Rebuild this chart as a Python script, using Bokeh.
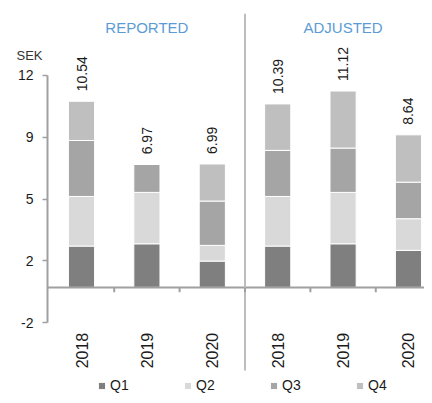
from bokeh.plotting import figure
from bokeh.models import (ColumnDataSource, Range1d, LinearAxis, FixedTicker)
from bokeh.core.properties import value
from bokeh.embed import file_html
from bokeh.resources import INLINE
import math

# ---- data ----
groups = ["REPORTED", "ADJUSTED"]
years = ["2018", "2019", "2020"]
quarters = ["Q1", "Q2", "Q3", "Q4"]
q1 = [2.34, 2.47, 1.49, 2.34, 2.47, 2.10]
q2 = [2.81, 2.91, 0.89, 2.81, 2.91, 1.79]
q3 = [3.17, 1.59, 2.51, 2.61, 2.51, 2.07]
q4 = [2.22, 0.00, 2.10, 2.63, 3.23, 2.68]
y_ticks = [-2, 1.5, 5, 8.5, 12]
y_tick_labels = ["-2", "2", "5", "9", "12"]
unit = "SEK"
colors = ["#7f7f7f", "#d9d9d9", "#a5a5a5", "#bfbfbf"]

FONT = "Liberation Sans"
TXT = "#1a1a1a"

n = len(years) * len(groups)
xs = list(range(n))
totals = [round(a + b + c + d, 2) for a, b, c, d in zip(q1, q2, q3, q4)]
cat_labels = years * len(groups)

source = ColumnDataSource(dict(x=xs, Q1=q1, Q2=q2, Q3=q3, Q4=q4,
                               total=totals, lab=["%.2f" % t for t in totals],
                               year=cat_labels, ybase=[y_ticks[0]] * n))

W, H = 424, 395
x_axis_pos = -0.52            # where the value axis stands (left of first category)
x_lo, x_hi = -1.2387, 5.245
y_lo, y_hi = -6.12, 15.51
p = figure(width=W, height=H, output_backend="svg", toolbar_location=None,
           x_axis_type=None, y_axis_type=None,
           x_range=Range1d(x_lo, x_hi), y_range=Range1d(y_lo, y_hi),
           min_border_left=0, min_border_right=0, min_border_top=13, min_border_bottom=0)
p.outline_line_color = None
p.background_fill_color = "white"
p.border_fill_color = "white"

# y axis
yax = LinearAxis(ticker=FixedTicker(ticks=y_ticks), bounds=(y_ticks[0], y_ticks[-1]),
                 fixed_location=x_axis_pos)
yax.major_label_overrides = {t: l for t, l in zip(y_ticks, y_tick_labels)}
yax.axis_line_color = "#a0a0a0"
yax.axis_line_width = 2
yax.major_tick_line_color = "#a0a0a0"
yax.major_tick_line_width = 1.5
yax.major_tick_in = 0
yax.major_tick_out = 5
yax.minor_tick_line_color = None
yax.major_label_standoff = 9
yax.major_label_text_font = FONT
yax.major_label_text_font_size = "14px"
yax.major_label_text_color = TXT
p.add_layout(yax, "left")

# unit label drawn as the tick label of a second axis above the top tick
y_unit = 13.14
uax = LinearAxis(ticker=FixedTicker(ticks=[y_unit]), fixed_location=x_axis_pos)
uax.major_label_overrides = {y_unit: unit}
uax.axis_line_color = None
uax.major_tick_line_color = None
uax.minor_tick_line_color = None
uax.major_tick_in = 0
uax.major_tick_out = 0
uax.major_label_standoff = 5
uax.major_label_text_font = FONT
uax.major_label_text_font_size = "13px"
uax.major_label_text_color = "#333333"
p.add_layout(uax, "left")

# stacked bars
p.vbar_stack(quarters, x="x", width=0.4, color=colors, line_color="white", line_width=1,
             source=source, legend_label=quarters)

# zero line, group divider, category boundary ticks
p.segment(x0=[x_axis_pos], x1=[x_hi], y0=[0], y1=[0], line_color="#a0a0a0", line_width=2)
div_x = len(years) - 0.5
p.segment(x0=[div_x], x1=[div_x], y0=[-4.7], y1=[y_hi], line_color="#bdbdbd", line_width=2)
bx = [i + 0.5 for i in range(n - 1)]
p.segment(x0=bx, x1=bx, y0=[0] * len(bx), y1=[-0.28] * len(bx), line_color="#a0a0a0", line_width=2)

# value labels
p.text(x="x", y="total", text="lab", source=source, angle=math.pi / 2,
       text_align="left", text_baseline="middle", y_offset=-10,
       text_font=value(FONT), text_font_size="14px", text_color=TXT)

# year labels
p.text(x="x", y="ybase", text="year", source=source, angle=math.pi / 2,
       text_align="right", text_baseline="middle", y_offset=10,
       text_font=value(FONT), text_font_size="16px", text_color=TXT)

# group titles
gx = [sum(range(i * len(years), (i + 1) * len(years))) / len(years) for i in range(len(groups))]
p.text(x=gx, y=[y_hi] * len(groups), text=groups, y_offset=14,
       text_align="center", text_baseline="middle",
       text_font=value(FONT), text_font_size="15px", text_color="#5b9bd5")

# legend
lg = p.legend[0]
lg.orientation = "horizontal"
lg.location = (97, 2)
lg.padding = 0
lg.margin = 0
lg.spacing = 53
lg.glyph_width = 9
lg.glyph_height = 9
lg.label_height = 14
lg.label_standoff = 4
lg.border_line_color = None
lg.background_fill_alpha = 0
lg.label_text_font = FONT
lg.label_text_font_size = "14px"
lg.label_text_color = TXT
lg.label_text_baseline = "middle"

open("out.html", "w").write(file_html(p, INLINE))
